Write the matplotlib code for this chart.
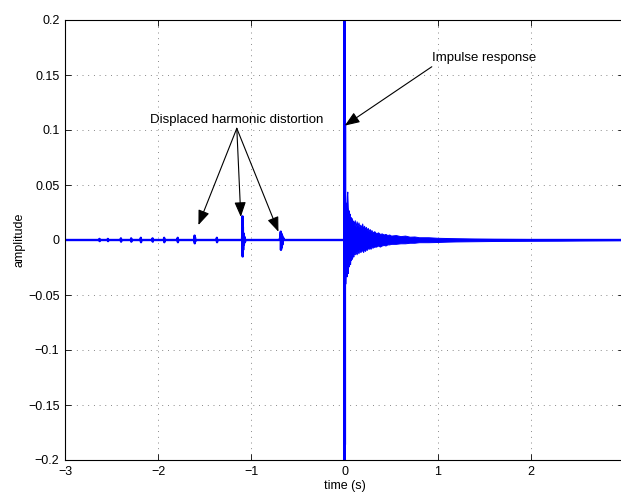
import matplotlib
matplotlib.use("Agg")
import matplotlib.pyplot as plt
from matplotlib.ticker import FixedLocator, FixedFormatter

plt.rcParams['font.family'] = ['Liberation Sans', 'DejaVu Sans']

# ---- measured signal: time (s) and amplitude ----
# quiet lead-in with displaced harmonic bursts (highest order first),
# followed by the direct impulse at t = 0
sig_t = [-3.000,
         -2.632, -2.630, -2.628, -2.626,
         -2.542, -2.540, -2.538, -2.536,
         -2.402, -2.400, -2.398, -2.396,
         -2.292, -2.290, -2.288, -2.286,
         -2.188, -2.186, -2.184, -2.182,
         -2.062, -2.060, -2.058, -2.056,
         -1.938, -1.936, -1.934, -1.932,
         -1.792, -1.790, -1.788, -1.786,
         -1.612, -1.609, -1.607, -1.605, -1.603, -1.600,
         -1.372, -1.370, -1.368, -1.366,
         -1.100, -1.097, -1.095, -1.093, -1.091, -1.088, -1.084, -1.080, -1.075, -1.070, -1.060,
         -0.700, -0.690, -0.686, -0.684, -0.682, -0.679, -0.675, -0.670, -0.665, -0.658, -0.650,
         -0.002,
         0.000, 0.001, 0.002, 0.003, 0.004, 0.005, 0.006, 0.008,
         2.970]
sig_a = [0.0,
         0.0, 0.0010, -0.0010, 0.0,
         0.0, 0.0010, -0.0010, 0.0,
         0.0, 0.0015, -0.0015, 0.0,
         0.0, 0.0015, -0.0015, 0.0,
         0.0, 0.0020, -0.0020, 0.0,
         0.0, 0.0015, -0.0015, 0.0,
         0.0, 0.0020, -0.0020, 0.0,
         0.0, 0.0020, -0.0020, 0.0,
         0.0, 0.0040, -0.0030, 0.0025, -0.0015, 0.0,
         0.0, 0.0020, -0.0020, 0.0,
         0.0, 0.0060, 0.0215, -0.0150, 0.0120, -0.0090, 0.0060, -0.0040, 0.0030, -0.0020, 0.0,
         0.0, 0.0020, 0.0050, 0.0076, -0.0090, 0.0060, -0.0070, 0.0040, -0.0040, 0.0020, 0.0,
         0.0,
         0.0, 0.26, -0.21, 0.089, -0.186, 0.105, -0.04, 0.0,
         0.0]

# decaying tail of the impulse response: upper / lower envelope
decay_t = [0.006, 0.010, 0.015, 0.020, 0.025, 0.030, 0.035, 0.040, 0.045, 0.050,
           0.055, 0.060, 0.065, 0.070, 0.075, 0.080, 0.085, 0.090, 0.095, 0.100,
           0.110, 0.120, 0.130, 0.140, 0.150, 0.160, 0.170, 0.180, 0.190, 0.200,
           0.210, 0.220, 0.230, 0.240, 0.250, 0.260, 0.270, 0.280, 0.290, 0.300,
           0.320, 0.340, 0.360, 0.380, 0.400, 0.420, 0.440, 0.460, 0.480, 0.500,
           0.550, 0.600, 0.650, 0.700, 0.750, 0.800, 0.900, 1.000, 1.100, 1.200,
           1.400, 1.600, 1.800, 2.000, 2.300, 2.600, 2.970]
decay_hi = [0.030, 0.028, 0.034, 0.030, 0.040, 0.044, 0.030, 0.025, 0.027, 0.022,
            0.024, 0.019, 0.021, 0.016, 0.020, 0.015, 0.018, 0.014, 0.017, 0.013,
            0.018, 0.012, 0.017, 0.013, 0.016, 0.012, 0.014, 0.011, 0.015, 0.010,
            0.013, 0.010, 0.012, 0.009, 0.011, 0.008, 0.010, 0.008, 0.009, 0.007,
            0.008, 0.006, 0.007, 0.0055, 0.006, 0.005, 0.0055, 0.0045, 0.005, 0.004,
            0.0045, 0.0035, 0.004, 0.003, 0.0032, 0.0025, 0.0025, 0.002, 0.0018, 0.0016,
            0.0013, 0.0011, 0.0010, 0.0009, 0.0007, 0.0005, 0.0003]
decay_lo = [-0.040, -0.030, -0.033, -0.028, -0.033, -0.026, -0.030, -0.022, -0.024, -0.020,
            -0.018, -0.022, -0.016, -0.018, -0.014, -0.017, -0.015, -0.013, -0.015, -0.012,
            -0.013, -0.011, -0.013, -0.010, -0.012, -0.009, -0.011, -0.010, -0.009, -0.011,
            -0.008, -0.010, -0.008, -0.009, -0.007, -0.008, -0.007, -0.008, -0.006, -0.007,
            -0.006, -0.006, -0.005, -0.006, -0.005, -0.0045, -0.005, -0.004, -0.004, -0.0035,
            -0.0035, -0.003, -0.003, -0.0025, -0.0025, -0.002, -0.002, -0.0018, -0.0015, -0.0013,
            -0.0011, -0.0009, -0.0008, -0.0007, -0.0006, -0.0004, -0.0002]

x_ticks = [-3, -2, -1, 0, 1, 2, 3]
x_tick_labels = ['\u22123', '\u22122', '\u22121', '0', '1', '2', '3']
y_ticks = [-0.2, -0.15, -0.1, -0.05, 0, 0.05, 0.1, 0.15, 0.2]
y_tick_labels = ['\u22120.2', '\u22120.15', '\u22120.1', '\u22120.05', '0',
                 '0.05', '0.1', '0.15', '0.2']

fig = plt.figure(figsize=(6.21, 4.92), dpi=100)
ax = fig.add_axes([65 / 621, 32 / 492, 559 / 621, 440 / 492])

blue = (0, 0, 1)
ax.fill_between(decay_t, decay_lo, decay_hi, color=blue, lw=0.7)
ax.plot(sig_t, sig_a, color=blue, lw=1.7, solid_joinstyle='round',
        solid_capstyle='round')

ax.set_xlim(-3, 3)
ax.set_ylim(-0.2, 0.2)
ax.xaxis.set_major_locator(FixedLocator(x_ticks))
ax.xaxis.set_major_formatter(FixedFormatter(x_tick_labels))
ax.yaxis.set_major_locator(FixedLocator(y_ticks))
ax.yaxis.set_major_formatter(FixedFormatter(y_tick_labels))
ax.tick_params(direction='in', top=True, right=True, length=4, width=0.6,
               labelsize=9, pad=4)
for s in ax.spines.values():
    s.set_linewidth(0.8)
ax.grid(True, color='0.25', lw=0.5, linestyle=(0, (1.2, 7)))
ax.set_axisbelow(True)

ax.set_xlabel('time (s)', fontsize=9, labelpad=2)
ax.set_ylabel('amplitude', fontsize=9, labelpad=2)

arrow = dict(arrowstyle='-|>,head_length=0.9,head_width=0.35', color='k',
             lw=0.8, shrinkA=0, shrinkB=0, mutation_scale=10)

ax.text(0.937, 0.165, 'Impulse response', fontsize=9.5, ha='left', va='center')
ax.annotate('', xy=(0.003, 0.104), xytext=(0.937, 0.1575), arrowprops=arrow)

ax.text(-1.159, 0.109, 'Displaced harmonic distortion', fontsize=9.5,
        ha='center', va='center')
origin = (-1.156, 0.1015)
for tip in [(-1.568, 0.0136), (-1.113, 0.021), (-0.709, 0.0075)]:
    ax.annotate('', xy=tip, xytext=origin, arrowprops=arrow)

fig.savefig('out.png', dpi=100)
